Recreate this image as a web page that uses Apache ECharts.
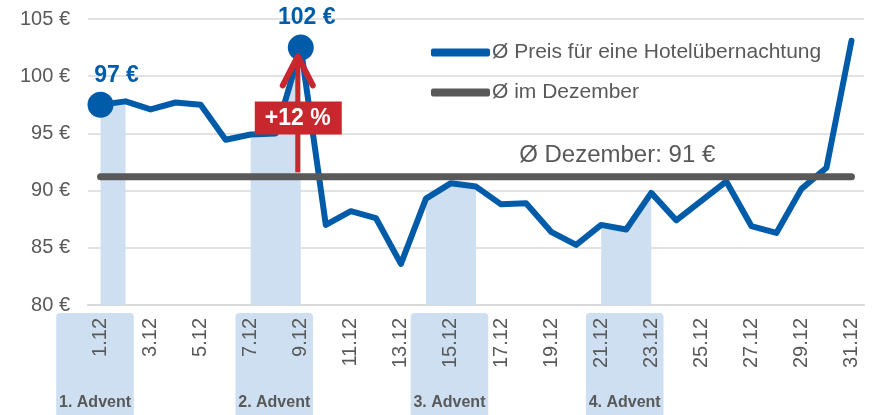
<!DOCTYPE html>
<html>
<head>
<meta charset="utf-8">
<script src="https://cdn.jsdelivr.net/npm/echarts@6/dist/echarts.min.js"></script>
<style>
  html, body { margin: 0; padding: 0; background: #fff; }
  #chart { width: 875px; height: 415px; }
</style>
</head>
<body>
<div id="chart"></div>
<script>
const days = ["1.12", "2.12", "3.12", "4.12", "5.12", "6.12", "7.12", "8.12", "9.12", "10.12",
  "11.12", "12.12", "13.12", "14.12", "15.12", "16.12", "17.12", "18.12", "19.12", "20.12",
  "21.12", "22.12", "23.12", "24.12", "25.12", "26.12", "27.12", "28.12", "29.12", "30.12", "31.12"]

// Ø Preis pro Nacht (€)
const price = [97.5, 97.8, 97.1, 97.7, 97.5, 94.45, 94.9, 95.0, 102.5, 87.0,
  88.2, 87.6, 83.6, 89.3, 90.65, 90.35, 88.8, 88.9, 86.4, 85.25,
  87.0, 86.6, 89.8, 87.4, 89.1, 90.8, 86.9, 86.3, 90.15, 92.0, 103.1]

const avgDecember = 91.2

// Wochenenden rund um die Adventssonntage (Schattierung)
const shadeRanges = [["1.12", "2.12"], ["7.12", "9.12"], ["14.12", "16.12"], ["21.12", "23.12"]]
const adventDays = ["1.12", "8.12", "15.12", "22.12"]
const adventLabels = ["1. Advent", "2. Advent", "3. Advent", "4. Advent"]

// hervorgehobene Punkte
const highlights = { "1.12": "97 €", "9.12": "102 €" }
const highlightOffset = { "1.12": [16, 0], "9.12": [6, 0] }

const yMin = 80
const yMax = 105
const yStep = 5

const BLUE = "#005ca9"
const GREY = "#595959"
const RED = "#c8282d"
const SHADE = "#cddff0"
const FONT = "Liberation Sans, Arial, sans-serif"

let shadeData = days.map((d, i) => {
  let inside = shadeRanges.some(r => i >= days.indexOf(r[0]) && i <= days.indexOf(r[1]))
  return inside ? price[i] : null
})

let priceData = days.map((d, i) => {
  if (highlights[d]) {
    return {
      value: price[i],
      symbol: "circle",
      symbolSize: 26,
      label: {
        show: true,
        position: "top",
        distance: 5,
        offset: highlightOffset[d],
        formatter: highlights[d],
        color: BLUE,
        fontSize: 23,
        fontWeight: "bold",
        fontFamily: FONT,
      },
    }
  }
  return price[i]
})

let avgData = days.map(() => avgDecember)

let myChart = echarts.init(document.getElementById("chart"))
myChart.setOption({
  animation: false,
  textStyle: { fontFamily: FONT },
  grid: {
    left: 88,
    right: 11,
    top: 19,
    bottom: 110,
  },
  legend: {
    data: ["Ø Preis für eine Hotelübernachtung", "Ø im Dezember"],
    orient: "vertical",
    left: 426,
    top: 37,
    itemWidth: 59,
    itemHeight: 8,
    itemGap: 19,
    icon: "roundRect",
    textStyle: {
      color: GREY,
      fontSize: 21,
      fontFamily: FONT,
      padding: [0, 0, 0, -3],
    },
  },
  xAxis: {
    type: "category",
    data: days,
    boundaryGap: true,
    axisLine: { lineStyle: { color: "#d9d9d9", width: 2 } },
    axisTick: { show: false },
    axisLabel: {
      interval: 1,
      rotate: 90,
      margin: 13,
      color: GREY,
      fontSize: 20,
      fontFamily: FONT,
    },
  },
  yAxis: {
    type: "value",
    min: yMin,
    max: yMax,
    interval: yStep,
    axisLine: { show: false },
    axisTick: { show: false },
    splitLine: { lineStyle: { color: "#d9d9d9", width: 1.5 } },
    axisLabel: {
      formatter: "{value} €",
      margin: 18,
      color: GREY,
      fontSize: 20,
      fontFamily: FONT,
    },
  },
  series: [
    {
      name: "Advent",
      type: "line",
      data: shadeData,
      symbol: "none",
      lineStyle: { width: 0 },
      areaStyle: { color: SHADE, opacity: 1 },
      z: 1,
      silent: true,
    },
    {
      name: "Ø Preis für eine Hotelübernachtung",
      type: "line",
      data: priceData,
      symbol: "none",
      showAllSymbol: true,
      color: BLUE,
      lineStyle: { color: BLUE, width: 6, join: "round", cap: "round" },
      z: 3,
    },
    {
      name: "Ø im Dezember",
      type: "line",
      data: avgData,
      symbol: "none",
      color: GREY,
      lineStyle: { color: GREY, width: 7, cap: "round" },
      z: 4,
    },
  ],
})

// Zusatzgrafiken, aus Achsenwerten berechnet
function px(day, value) {
  return myChart.convertToPixel({ gridIndex: 0 }, [day, value])
}

let graphics = []
let bandW = px("2.12", yMin)[0] - px("1.12", yMin)[0]
let axisY = px("1.12", yMin)[1]

adventDays.forEach((d, i) => {
  let cx = px(d, yMin)[0] - 1.5
  if (i === 0) cx -= 4
  graphics.push({
    type: "rect",
    z: -1,
    shape: { x: cx - bandW * 1.55, y: axisY + 8, width: bandW * 3.1, height: 120, r: [4, 4, 0, 0] },
    style: { fill: SHADE },
  })
  graphics.push({
    type: "text",
    z: 5,
    x: cx,
    y: axisY + 98,
    style: {
      text: adventLabels[i],
      fill: GREY,
      font: "bold 16px " + FONT,
      textAlign: "center",
      textVerticalAlign: "middle",
    },
  })
})

// Pfeil +12 %
let arrowX = px("9.12", yMin)[0] - 3
let arrowBottom = px("9.12", 91.6)[1]
let arrowTop = px("9.12", 101.9)[1]
graphics.push({
  type: "polyline",
  z: 100,
  shape: { points: [[arrowX, arrowBottom], [arrowX, arrowTop + 3]] },
  style: { stroke: RED, lineWidth: 5, fill: null },
})
graphics.push({
  type: "polyline",
  z: 100,
  shape: { points: [[arrowX - 15, arrowTop + 31], [arrowX, arrowTop + 2], [arrowX + 15, arrowTop + 31]] },
  style: { stroke: RED, lineWidth: 6, fill: null, lineJoin: "round", lineCap: "round" },
})
let boxY = px("9.12", 96.3)[1]
graphics.push({
  type: "rect",
  z: 101,
  shape: { x: arrowX - 43, y: boxY - 17, width: 87, height: 33 },
  style: { fill: RED },
})
graphics.push({
  type: "text",
  z: 102,
  x: arrowX,
  y: boxY,
  style: {
    text: "+12 %",
    fill: "#fff",
    font: "bold 23px " + FONT,
    textAlign: "center",
    textVerticalAlign: "middle",
  },
})

// Beschriftung Durchschnittslinie
let avgY = px("1.12", avgDecember)[1]
graphics.push({
  type: "text",
  z: 10,
  x: px("22.12", yMin)[0] - 9,
  y: avgY - 21,
  style: {
    text: "Ø Dezember: 91 €",
    fill: GREY,
    font: "24px " + FONT,
    textAlign: "center",
    textVerticalAlign: "middle",
  },
})

myChart.setOption({ graphic: graphics })
</script>
</body>
</html>
